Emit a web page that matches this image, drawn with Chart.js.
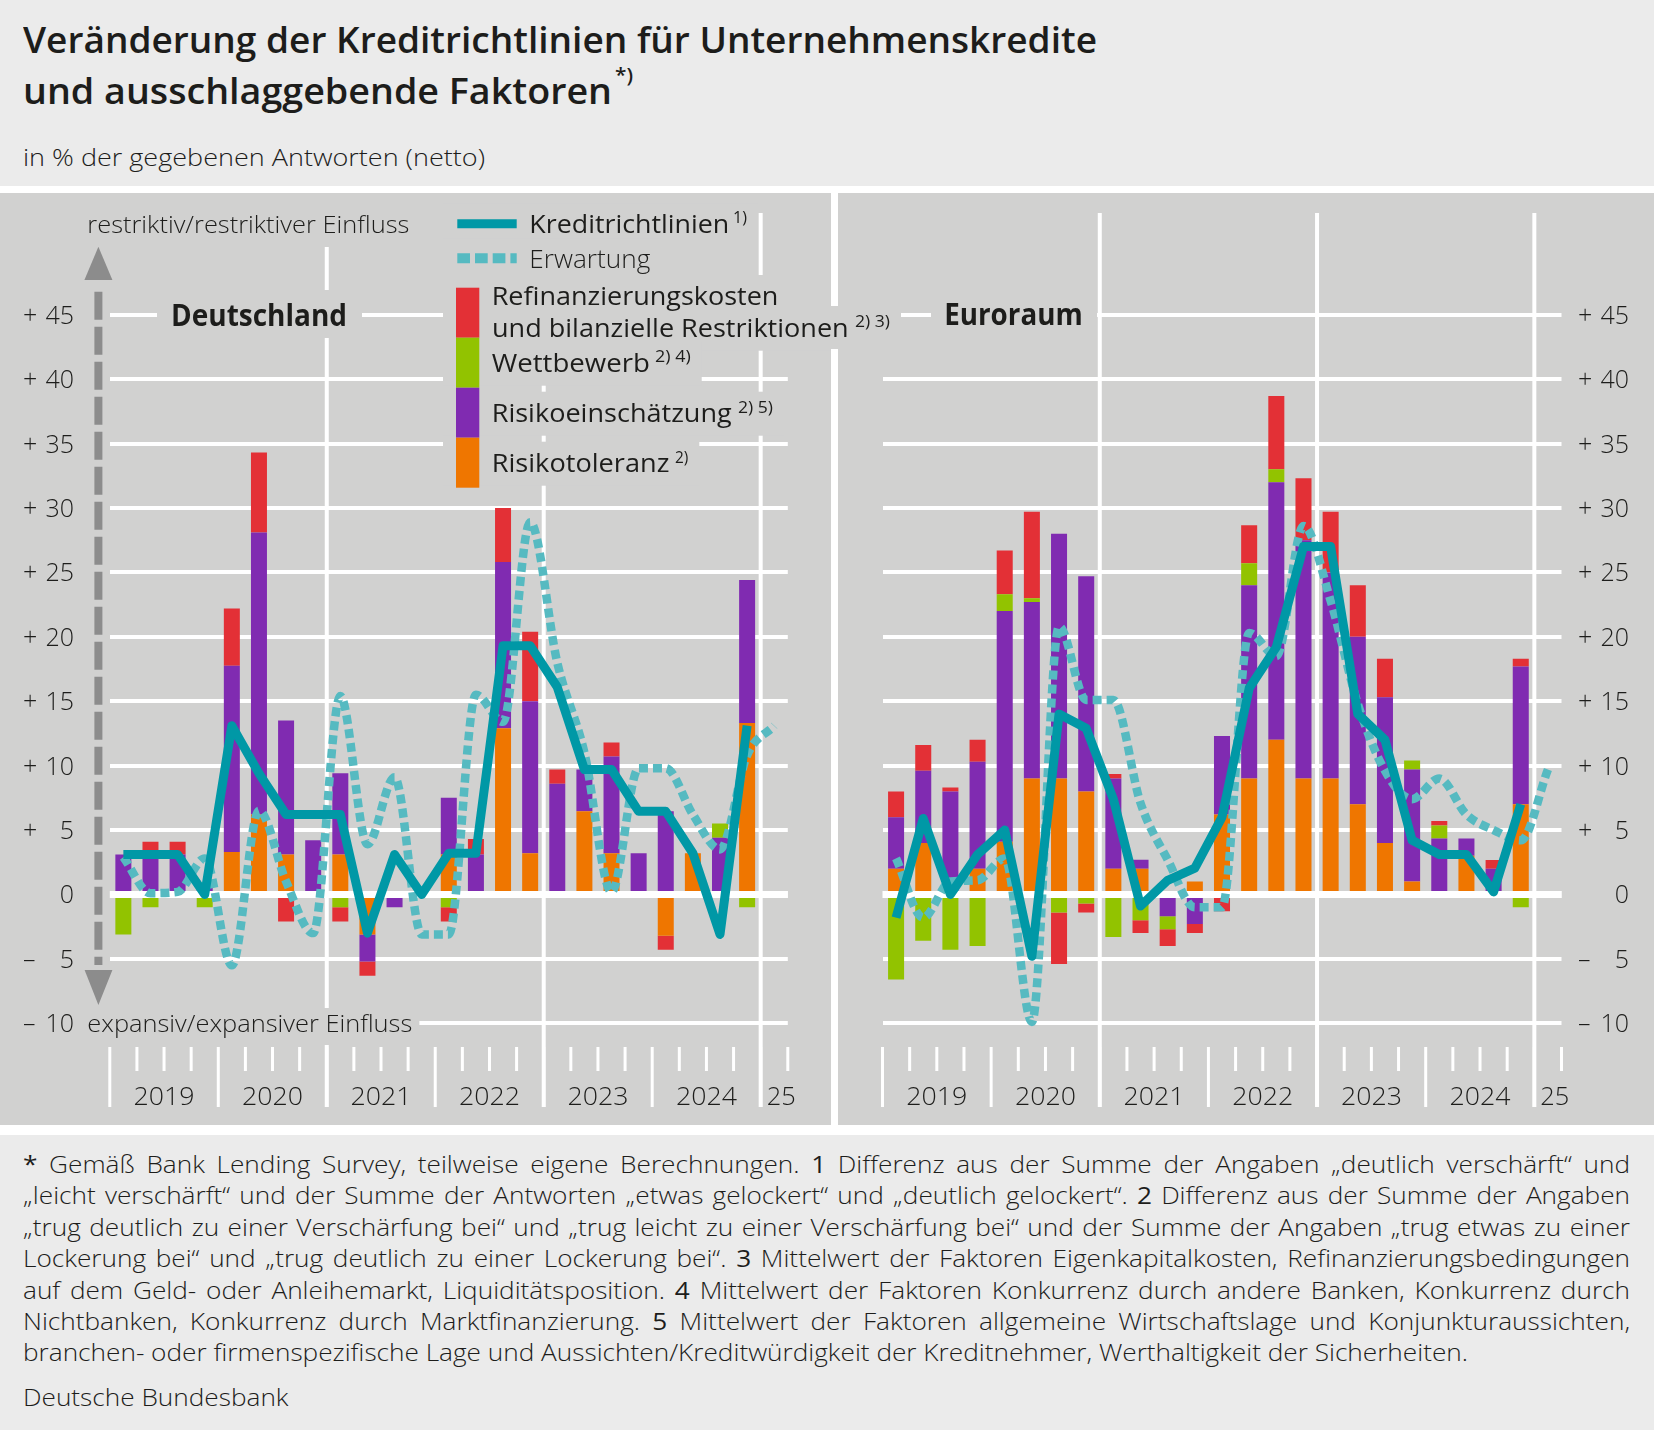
<!DOCTYPE html>
<html><head><meta charset="utf-8">
<script src="https://cdn.jsdelivr.net/npm/chart.js@4/dist/chart.umd.min.js"></script>
<style>
html,body{margin:0;padding:0}
body{width:1654px;height:1430px;position:relative;overflow:hidden;background:#ebebeb;font-family:"Open Sans","Noto Sans",sans-serif;color:#1d1d1b}
.t,.f{position:absolute;white-space:nowrap;transform-origin:0 0;line-height:1.2;left:0;top:0;z-index:3}
.f{font-size:24px;font-weight:300}
#band{position:absolute;left:0;top:186px;width:1654px;height:949px;background:#fff}
.panel{position:absolute;top:193px;height:932px;background:#d1d1d0}
#ko{position:absolute;left:820px;top:306px;width:81px;height:43px;background:#d1d1d0;z-index:2}
canvas{display:block}
</style></head>
<body>
<div id="band"></div>
<div class="panel" style="left:0;width:831px"><canvas id="cDE" width="831" height="932" style="width:831px;height:932px"></canvas></div>
<div class="panel" style="left:838px;width:816px"><canvas id="cEA" width="816" height="932" style="width:816px;height:932px"></canvas></div>
<div id="ko"></div>
<div class="t" data-x="491.7" data-b="336.7" data-w="356.7" style="font-size:25px;font-weight:500">und bilanzielle Restriktionen</div>
<div class="t" data-x="855" data-b="326.5" data-w="35" style="font-size:16px;font-weight:500">2) 3)</div>

<div class="t" data-x="23" data-b="53" data-w="1074" style="font-size:36px;font-weight:600">Veränderung der Kreditrichtlinien für Unternehmenskredite</div>
<div class="t" data-x="23" data-b="103.5" data-w="589" style="font-size:36px;font-weight:600">und ausschlaggebende Faktoren</div>
<div class="t" data-x="615" data-b="82" data-w="18" style="font-size:20px;font-weight:600">*)</div>
<div class="t" data-x="23" data-b="165.6" data-w="462" style="font-size:24px;font-weight:300">in % der gegebenen Antworten (netto)</div>

<div class="f" data-b="1173" data-j="1"><b>*</b> Gemäß Bank Lending Survey, teilweise eigene Berechnungen. <b>1</b> Differenz aus der Summe der Angaben „deutlich verschärft“ und</div>
<div class="f" data-b="1204.4" data-j="1">„leicht verschärft“ und der Summe der Antworten „etwas gelockert“ und „deutlich gelockert“. <b>2</b> Differenz aus der Summe der Angaben</div>
<div class="f" data-b="1235.8" data-j="1">„trug deutlich zu einer Verschärfung bei“ und „trug leicht zu einer Verschärfung bei“ und der Summe der Angaben „trug etwas zu einer</div>
<div class="f" data-b="1267.2" data-j="1">Lockerung bei“ und „trug deutlich zu einer Lockerung bei“. <b>3</b> Mittelwert der Faktoren Eigenkapitalkosten, Refinanzierungsbedingungen</div>
<div class="f" data-b="1298.6" data-j="1">auf dem Geld- oder Anleihemarkt, Liquiditätsposition. <b>4</b> Mittelwert der Faktoren Konkurrenz durch andere Banken, Konkurrenz durch</div>
<div class="f" data-b="1330" data-j="1">Nichtbanken, Konkurrenz durch Marktfinanzierung. <b>5</b> Mittelwert der Faktoren allgemeine Wirtschaftslage und Konjunkturaussichten,</div>
<div class="f" data-b="1361.4" id="fref">branchen- oder firmenspezifische Lage und Aussichten/Kreditwürdigkeit der Kreditnehmer, Werthaltigkeit der Sicherheiten.</div>
<div class="f" data-b="1406">Deutsche Bundesbank</div>

<script>
// ---------- data ----------
const quarters = ['2019 Q1','2019 Q2','2019 Q3','2019 Q4','2020 Q1','2020 Q2','2020 Q3','2020 Q4',
  '2021 Q1','2021 Q2','2021 Q3','2021 Q4','2022 Q1','2022 Q2','2022 Q3','2022 Q4',
  '2023 Q1','2023 Q2','2023 Q3','2023 Q4','2024 Q1','2024 Q2','2024 Q3','2024 Q4','2025 Q1'];
const yearLabels = ['2019','2020','2021','2022','2023','2024','25'];
const yTicks = [-10,-5,0,5,10,15,20,25,30,35,40,45];

// Deutschland
const deRisikotoleranz      = [0,0,0,0,3.3,6.2,3.1,0,3.1,-3.1,0,0,3.1,0,12.9,3.2,0,6.45,3.2,0,-3.2,3.2,0,13.3];
const deRisikoeinschaetzung = [3.1,3.1,3.1,0.7,14.45,21.9,10.4,4.2,6.3,-2.1,-1.0,0,4.4,3.1,12.9,11.8,8.6,3.25,7.5,3.2,6.45,0,4.4,11.1];
const deWettbewerb          = [-3.1,-1.0,0,-1.0,0,0,0,0,-1.0,0,0,0,-1.0,0,0,0,0,0,0,0,0,0,1.1,-1.0];
const deRefinanzierung      = [0,1.0,1.0,0,4.45,6.2,-2.1,0,-1.1,-1.1,0,0,-1.1,1.2,4.2,5.4,1.1,0,1.1,0,-1.1,0,0,0];
const deKreditrichtlinien   = [3.1,3.1,3.1,0,13.1,9.4,6.2,6.2,6.2,-3.0,3.1,0,3.2,3.2,19.3,19.3,16.1,9.7,9.7,6.45,6.45,3.2,-3.1,13.1];
const deErwartung           = [2.9,0.1,0.2,2.8,-5.5,6.5,1.0,-3.0,15.4,3.9,9.1,-3.1,-3.1,15.5,13.4,28.9,18.0,11.0,0.2,9.8,9.8,6.2,3.5,10.8,13.1];

// Euroraum
const eaRisikotoleranz      = [2.0,4.0,0,2.0,4.1,9.0,9.0,8.0,2.0,2.0,0,1.0,6.2,9.0,12.0,9.0,9.0,7.0,4.0,1.0,0,3.0,0,7.0];
const eaRisikoeinschaetzung = [4.0,5.6,8.0,8.3,17.9,13.7,19.0,16.7,7.0,0.7,-1.7,-2.3,6.1,15.0,20.0,18.5,16.0,13.0,11.3,8.7,4.35,1.35,2.0,10.7];
const eaWettbewerb          = [-6.6,-3.6,-4.3,-4.0,1.3,0.3,-1.4,-0.7,-3.3,-2.0,-1.0,0,0,1.7,1.0,0,0,0,0,0.7,1.0,0,0,-1.0];
const eaRefinanzierung      = [2.0,2.0,0.3,1.7,3.4,6.7,-4.0,-0.7,0.35,-1.0,-1.3,-0.7,-1.3,2.95,5.7,4.8,4.7,4.0,3.0,0,0.35,0,0.67,0.6];
const eaKreditrichtlinien   = [-1.8,5.9,0,3.1,5.0,-4.8,14.0,12.9,7.4,-0.9,1.1,2.05,6.0,16.0,19.2,27.0,27.0,14.0,12.0,4.2,3.1,3.1,0.2,7.0];
const eaErwartung           = [2.8,-1.8,1.0,1.1,2.8,-9.9,20.8,15.1,15.1,7.1,2.7,-1.0,-1.0,20.3,18.5,28.6,22.8,14.8,9.6,7.4,9.0,6.2,5.0,4.2,9.7];

// ---------- style ----------
const PANEL = '#d1d1d0';
const TXT = '#1d1d1b';
const C_RED = '#e33036', C_GREEN = '#92c300', C_PURPLE = '#802bb1', C_ORANGE = '#ef7600';
const C_SOLID = '#0098a6', C_DOT = '#56bac1';
const FONT = '"Open Sans","Noto Sans",sans-serif';

function txt(ctx, s, x, y, font, w, align, color) {
  ctx.save();
  ctx.font = font; ctx.fillStyle = color || TXT;
  ctx.textBaseline = 'alphabetic'; ctx.textAlign = 'left';
  const m = ctx.measureText(s).width;
  const k = w ? w / m : 1;
  let x0 = x;
  if (align === 'right') x0 = x - m * k; else if (align === 'center') x0 = x - m * k / 2;
  ctx.translate(x0, y); ctx.scale(k, 1); ctx.fillText(s, 0, 0);
  ctx.restore();
  return m * k;
}
function knock(ctx, x0, y0, x1, y1) { ctx.fillStyle = PANEL; ctx.fillRect(x0, y0, x1 - x0, y1 - y0); }
function seg(ctx, x0, y0, x1, y1) { ctx.beginPath(); ctx.moveTo(x0, y0); ctx.lineTo(x1, y1); ctx.stroke(); }

const decor = {
  id: 'decor',
  beforeDatasetsDraw(chart, args, o) {
    const ctx = chart.ctx, xs = chart.scales.x, ys = chart.scales.y;
    const w = xs.getPixelForValue(1) - xs.getPixelForValue(0);
    const b0 = xs.getPixelForValue(0) - w / 2;
    ctx.save();
    ctx.strokeStyle = '#ffffff';
    ctx.lineWidth = 4;
    [8, 16, 24].forEach(k => { const x = b0 + k * w; seg(ctx, x, 20, x, 914); });
    ctx.lineWidth = 3;
    for (let k = 0; k <= 25; k++) { const x = b0 + k * w; seg(ctx, x, 854, x, (k % 4 === 0) ? 914 : 878); }
    yearLabels.forEach((s, i) => {
      if (i < 6) txt(ctx, s, b0 + (i * 4 + 2) * w, 912, '300 25px ' + FONT, 61, 'center');
      else txt(ctx, s, b0 + 24 * w + 6, 912, '300 25px ' + FONT, 29, 'left');
    });
    yTicks.forEach(v => {
      const y = ys.getPixelForValue(v) + 9;
      const a = Math.abs(v);
      txt(ctx, String(a), o.numX, y, '300 25px ' + FONT, null, 'right');
      if (v !== 0) txt(ctx, v > 0 ? '+' : '\u2013', o.signX, y, '300 25px ' + FONT, null, 'left');
    });
    if (o.extra) o.extra(ctx, chart);
    ctx.restore();
  },
  afterDatasetDraw(chart, args) {
    if (args.index !== 2) return;
    const ctx = chart.ctx, ys = chart.scales.y, ca = chart.chartArea;
    const y = ys.getPixelForValue(0);
    ctx.save(); ctx.strokeStyle = '#ffffff'; ctx.lineWidth = 7;
    seg(ctx, ca.left, y, ca.right, y); ctx.restore();
  }
};

function leftExtra(ctx) {
  ctx.save();
  ctx.strokeStyle = '#8c8c8c'; ctx.fillStyle = '#8c8c8c';
  ctx.lineWidth = 8; ctx.setLineDash([28, 7]);
  seg(ctx, 98.4, 98.7, 98.4, 772); ctx.setLineDash([]);
  ctx.beginPath(); ctx.moveTo(98.4, 53.7); ctx.lineTo(84.4, 87); ctx.lineTo(112.4, 87); ctx.closePath(); ctx.fill();
  ctx.beginPath(); ctx.moveTo(98.4, 812); ctx.lineTo(84.6, 777); ctx.lineTo(112.4, 777); ctx.closePath(); ctx.fill();
  ctx.restore();
  knock(ctx, 80, 20, 416, 54);
  txt(ctx, 'restriktiv/restriktiver Einfluss', 87.3, 40.3, '300 24px ' + FONT, 322);
  knock(ctx, 80, 815, 419.4, 852);
  txt(ctx, 'expansiv/expansiver Einfluss', 87.3, 838.7, '300 24px ' + FONT, 325);
  knock(ctx, 157, 97, 362, 145);
  txt(ctx, 'Deutschland', 171, 132.7, '700 30px ' + FONT, 176);
  const rows = [
    ['Kreditrichtlinien', 529.3, 40.3, 200, '500', '1)', 733, 14, 30],
    ['Erwartung', 529.3, 75.3, 121, '300'],
    ['Refinanzierungskosten', 491.7, 112, 286.7, '500'],
    [null, 491.7, 143.7, 356.7, '500', '2) 3)', 855, 35, 133.5],
    ['Wettbewerb', 491.7, 178.7, 158.3, '500', '2) 4)', 655, 35.7, 168.5],
    ['Risikoeinschätzung', 491.7, 228.7, 240, '500', '2) 5)', 738, 35, 220],
    ['Risikotoleranz', 491.7, 278.7, 177.7, '500', '2)', 675, 13.3, 270]
  ];
  rows.forEach(r => {
    const end = r[5] ? r[6] + r[7] : r[1] + r[3];
    knock(ctx, 443, r[2] - 30, end + 11, r[2] + 14);
  });
  rows.forEach(r => {
    if (!r[0]) return;
    txt(ctx, r[0], r[1], r[2], r[4] + ' 25px ' + FONT, r[3]);
    if (r[5]) txt(ctx, r[5], r[6], r[8], '500 16px ' + FONT, r[7]);
  });
  ctx.save();
  ctx.lineWidth = 9; ctx.strokeStyle = C_SOLID; seg(ctx, 457.3, 30.7, 516.7, 30.7);
  ctx.lineWidth = 10; ctx.strokeStyle = C_DOT; ctx.setLineDash([12.7, 5]); seg(ctx, 457.3, 65.3, 516.7, 65.3);
  ctx.restore();
  [C_RED, C_GREEN, C_PURPLE, C_ORANGE].forEach((c, i) => { ctx.fillStyle = c; ctx.fillRect(456, 94.7 + i * 50, 23.3, 50); });
}
function rightExtra(ctx) {
  knock(ctx, 93, 97, 259, 145);
  txt(ctx, 'Euroraum', 106.2, 132, '700 30px ' + FONT, 138.5);
}

function makeChart(id, d, pad, deco) {
  return new Chart(document.getElementById(id), {
    type: 'bar',
    data: {
      labels: quarters,
      datasets: [
        { type: 'line', label: 'Kreditrichtlinien', data: d.kredit, borderColor: C_SOLID, borderWidth: 9,
          pointRadius: 0, tension: 0, stack: 'k', borderJoinStyle: 'round', clip: false },
        { type: 'line', label: 'Erwartung', data: d.erw, borderColor: C_DOT, borderWidth: 8.5, borderDash: [9, 5],
          pointRadius: 0, cubicInterpolationMode: 'monotone', stack: 'e', clip: false },
        { label: 'Risikotoleranz', data: d.tol, backgroundColor: C_ORANGE },
        { label: 'Risikoeinschätzung', data: d.ein, backgroundColor: C_PURPLE },
        { label: 'Wettbewerb', data: d.wett, backgroundColor: C_GREEN },
        { label: 'Refinanzierungskosten und bilanzielle Restriktionen', data: d.refi, backgroundColor: C_RED }
      ]
    },
    options: {
      responsive: false, animation: false, devicePixelRatio: 1, events: [],
      layout: { padding: pad },
      datasets: { bar: { barPercentage: 0.59, categoryPercentage: 1, borderWidth: 0 } },
      scales: {
        x: { type: 'category', display: false, stacked: true, offset: true },
        y: { min: -10, max: 50, stacked: true, display: true, border: { display: false },
             ticks: { display: false, stepSize: 5, padding: 0 },
             grid: { drawTicks: false,
                     color: c => (c.tick && c.tick.value === 50) ? 'rgba(0,0,0,0)' : '#ffffff',
                     lineWidth: c => (c.tick && c.tick.value === 0) ? 7 : 4 } }
      },
      plugins: { legend: { display: false }, tooltip: { enabled: false }, decor: deco }
    },
    plugins: [decor]
  });
}

makeChart('cDE', { tol: deRisikotoleranz, ein: deRisikoeinschaetzung, wett: deWettbewerb, refi: deRefinanzierung,
                   kredit: deKreditrichtlinien, erw: deErwartung },
  { left: 109.8, right: 43.2, top: 57.3, bottom: 101.7 },
  { numX: 74, signX: 23, extra: leftExtra });
makeChart('cEA', { tol: eaRisikotoleranz, ein: eaRisikoeinschaetzung, wett: eaWettbewerb, refi: eaRefinanzierung,
                   kredit: eaKreditrichtlinien, erw: eaErwartung },
  { left: 44.5, right: 92.5, top: 57.3, bottom: 101.7 },
  { numX: 791, signX: 740, extra: rightExtra });

// ---------- html text placement ----------
function baselineTop(el, x, b) {
  el.style.left = x + 'px'; el.style.top = '0px';
  const mk = document.createElement('span');
  mk.style.cssText = 'display:inline-block;width:0;height:0;vertical-align:baseline';
  el.appendChild(mk);
  const off = mk.getBoundingClientRect().top - el.getBoundingClientRect().top;
  el.removeChild(mk);
  el.style.top = (b - off) + 'px';
}
document.querySelectorAll('.t').forEach(el => {
  baselineTop(el, +el.dataset.x, +el.dataset.b);
  const w = +el.dataset.w;
  const nat = el.getBoundingClientRect().width;
  el.style.transform = 'scaleX(' + (w / nat) + ')';
});
const ref = document.getElementById('fref');
const s = 1445 / ref.getBoundingClientRect().width;
document.querySelectorAll('.f').forEach(el => {
  baselineTop(el, 23, +el.dataset.b);
  const nat = el.getBoundingClientRect().width;
  let k = s;
  if (el.dataset.j) {
    const n = (el.textContent.match(/ /g) || []).length;
    if (nat * s < 1607) el.style.wordSpacing = ((1607 - nat * s) / n / s) + 'px';
    else k = 1607 / nat;
  }
  el.style.transform = 'scaleX(' + k + ')';
});
</script>
</body></html>
